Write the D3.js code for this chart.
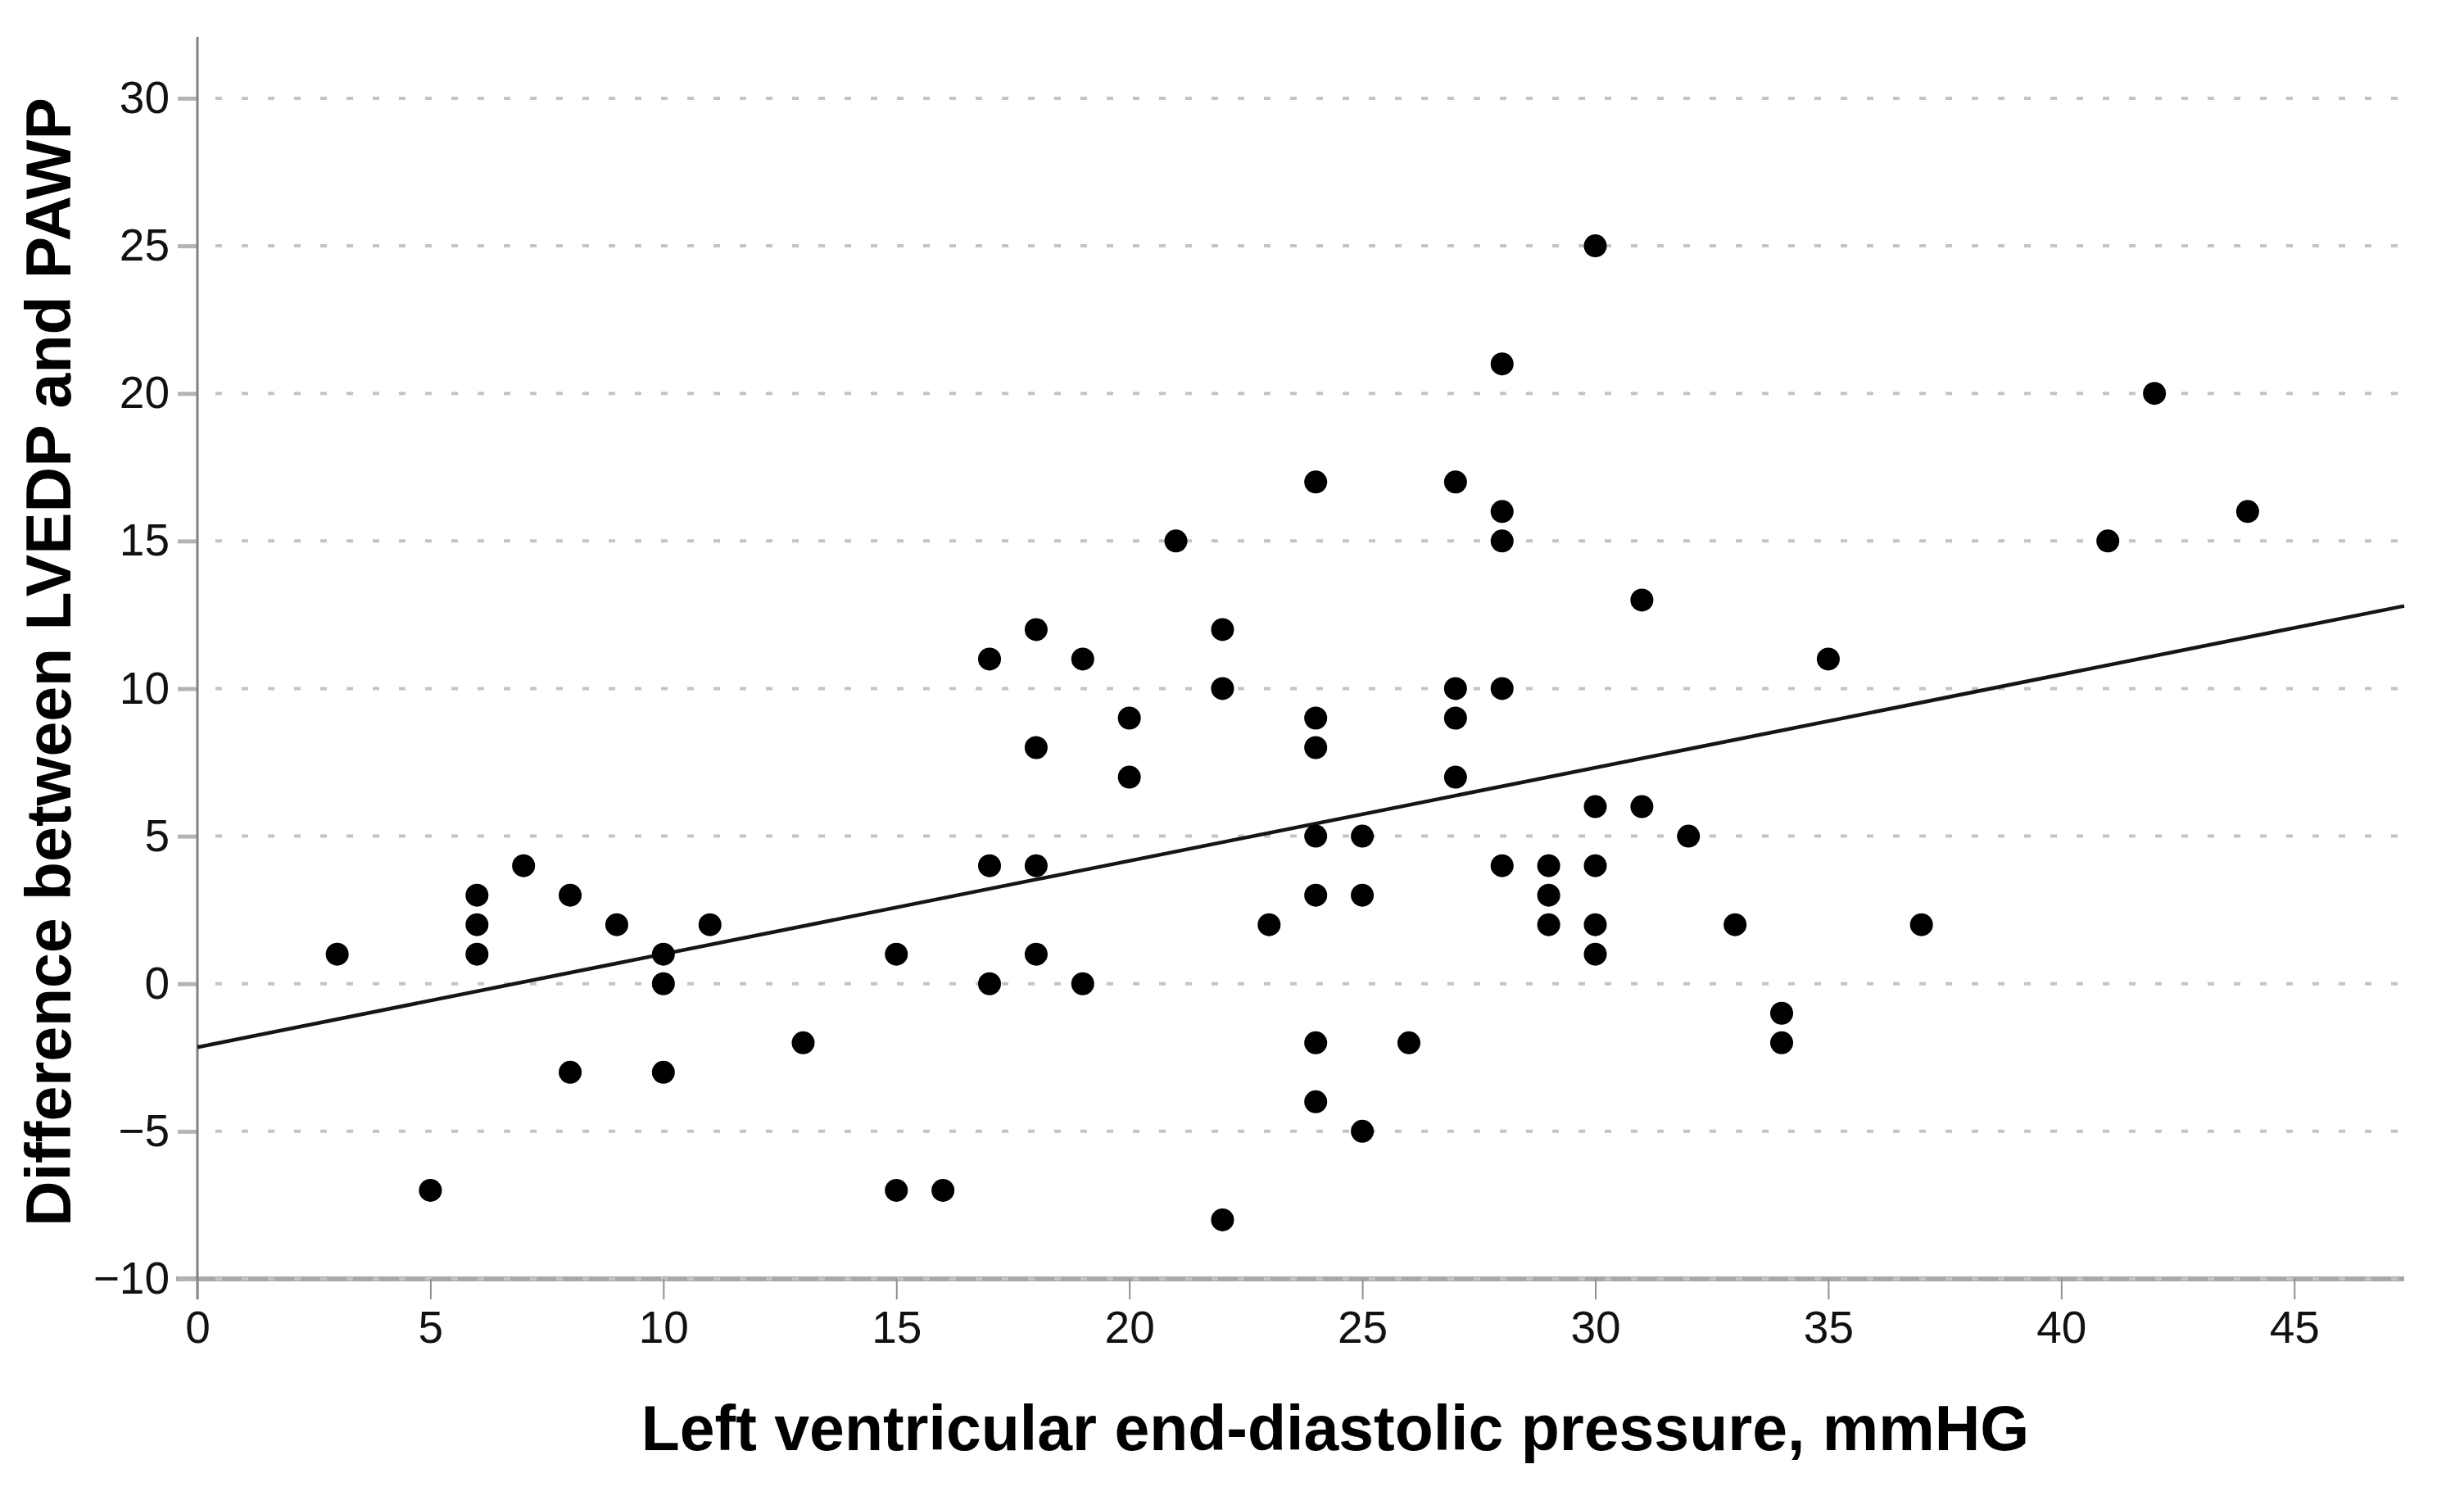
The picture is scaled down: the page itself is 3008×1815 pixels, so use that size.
<!DOCTYPE html>
<html><head><meta charset="utf-8">
<script src="https://cdn.jsdelivr.net/npm/d3@7"></script>
<style>
html,body{margin:0;padding:0;background:#fff;}
svg{display:block;}
text{font-family:"Liberation Sans",Arial,sans-serif;}
</style></head>
<body>
<script>
// LVEDP (x) values
const lvedp = [3,5,6,6,6,7,8,8,9,10,10,10,11,13,15,15,16,17,17,17,18,18,18,18,19,19,20,20,21,22,22,22,23,24,24,24,24,24,24,24,25,25,25,26,27,27,27,27,28,28,28,28,28,29,29,29,30,30,30,30,30,31,31,32,33,34,34,35,37,41,42,44];
// Difference between LVEDP and PAWP (y) values
const diff  = [1,-7,3,2,1,4,3,-3,2,1,0,-3,2,-2,1,-7,-7,11,4,0,12,8,4,1,11,0,9,7,15,12,10,-8,2,17,9,8,5,3,-2,-4,5,3,-5,-2,17,10,9,7,21,16,15,10,4,4,3,2,25,6,4,2,1,13,6,5,2,-1,-2,11,2,15,20,16];
// Fitted regression line, read at the two ends of the x axis
const fitX = [0, 47.36];
const fitY = [-2.15, 12.8];
const xTicks = [0,5,10,15,20,25,30,35,40,45];
const yTicks = [-10,-5,0,5,10,15,20,25,30];
const xDomain = [0, 47.36];
const yDomain = [-10, 32.08];
const xTitle = "Left ventricular end-diastolic pressure, mmHG";
const yTitle = "Difference between LVEDP and PAWP";

const W = 3008, H = 1815;
const L = 241, R = 2935, T = 45, B = 1561;

const svg = d3.select("body").append("svg").attr("width", W).attr("height", H);
const x = d3.scaleLinear().domain(xDomain).range([L, R]);
const y = d3.scaleLinear().domain(yDomain).range([B, T]);

// x axis base line (thick gray)
svg.append("line").attr("x1", L - 26).attr("x2", R).attr("y1", y(-10)).attr("y2", y(-10))
  .attr("stroke", "#a8a8a8").attr("stroke-width", 6);

// gridlines
svg.append("g").selectAll("line").data(yTicks).join("line")
  .attr("x1", L).attr("x2", R).attr("y1", d => y(d)).attr("y2", d => y(d))
  .attr("stroke", "#c4c4c4").attr("stroke-width", 4).attr("stroke-dasharray", "8 24")
  .attr("stroke-dashoffset", -22);

// y axis
const yAxis = svg.append("g").attr("transform", `translate(${L},0)`)
  .call(d3.axisLeft(y).tickValues(yTicks).tickSize(24).tickPadding(10));
yAxis.select(".domain").remove();
yAxis.selectAll(".tick line").attr("stroke", "#b4b4b4").attr("stroke-width", 5);
yAxis.selectAll(".tick text").attr("font-size", 55).attr("fill", "#111")
  .attr("font-family", "'Liberation Sans', Arial, sans-serif");
svg.append("line").attr("x1", L).attr("x2", L).attr("y1", T).attr("y2", y(-10) + 25)
  .attr("stroke", "#808080").attr("stroke-width", 3);

// x axis
const xAxis = svg.append("g").attr("transform", `translate(0,${y(-10)})`)
  .call(d3.axisBottom(x).tickValues(xTicks).tickSize(25).tickPadding(14));
xAxis.select(".domain").remove();
xAxis.selectAll(".tick line").attr("stroke", "#909090").attr("stroke-width", 2);
xAxis.selectAll(".tick text").attr("font-size", 55).attr("fill", "#111")
  .attr("font-family", "'Liberation Sans', Arial, sans-serif");

// regression line
svg.append("line")
  .attr("x1", x(fitX[0])).attr("y1", y(fitY[0]))
  .attr("x2", x(fitX[1])).attr("y2", y(fitY[1]))
  .attr("stroke", "#151515").attr("stroke-width", 4.5);

// points
svg.append("g").selectAll("circle").data(lvedp.map((v, i) => [v, diff[i]])).join("circle")
  .attr("cx", d => x(d[0])).attr("cy", d => y(d[1])).attr("r", 14).attr("fill", "#000");

// titles
svg.append("text").attr("x", 1630).attr("y", 1770).attr("text-anchor", "middle")
  .attr("font-size", 77).attr("font-weight", "bold").attr("fill", "#000").text(xTitle);
svg.append("text").attr("transform", `translate(86,808) rotate(-90)`).attr("text-anchor", "middle")
  .attr("font-size", 77).attr("font-weight", "bold").attr("fill", "#000").text(yTitle);
</script>
</body></html>
